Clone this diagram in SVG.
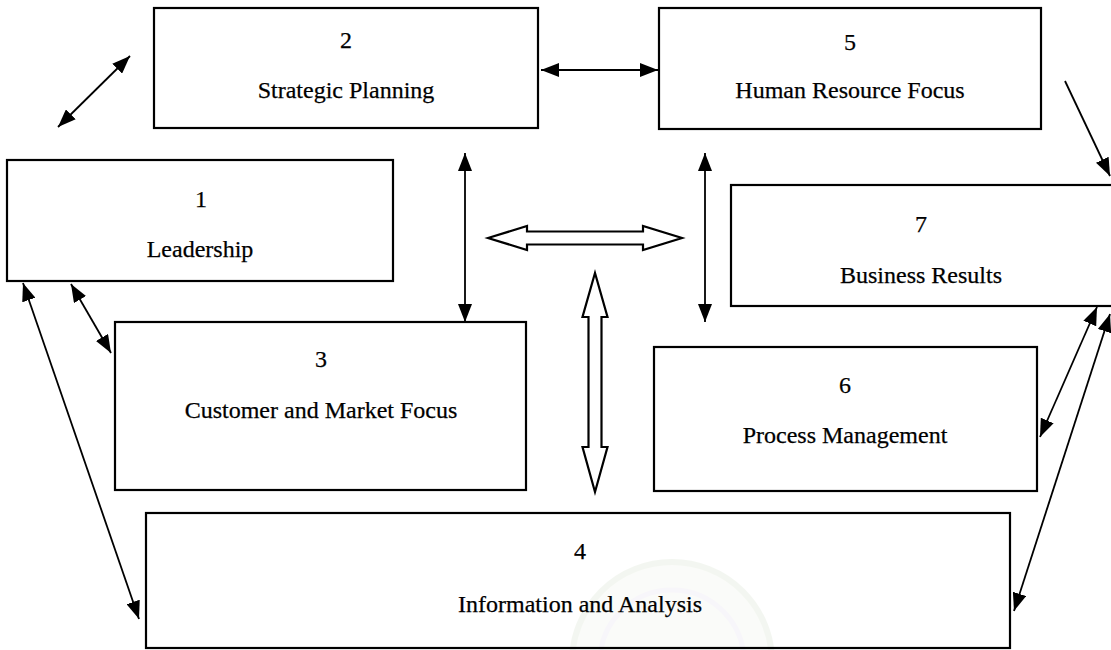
<svg xmlns="http://www.w3.org/2000/svg" width="1111" height="650" viewBox="0 0 1111 650" font-family="'Liberation Serif', 'Times New Roman', Times, serif">
  <defs>
    <marker id="head" viewBox="0 0 18 14" refX="18" refY="7" markerWidth="18" markerHeight="14" markerUnits="userSpaceOnUse" orient="auto-start-reverse">
      <path d="M0,0 L18,7 L0,14 Z" fill="#000"/>
    </marker>
    <style>
      .box { fill: none; stroke: #000; stroke-width: 2.2; }
      .lbl { font-family: 'Liberation Serif', 'Times New Roman', Times, serif; font-size: 24px; fill: #000; stroke: #000; stroke-width: 0.25; text-anchor: middle; }
      .link { fill: none; stroke: #000; stroke-width: 1.8; }
      .dbl { marker-start: url(#head); marker-end: url(#head); }
      .one { marker-end: url(#head); }
      .hollow { fill: #fff; stroke: #000; stroke-width: 2.2; stroke-linejoin: miter; }
    </style>
  </defs>

  <rect width="1111" height="650" fill="#fff"/>

  <!-- faint seal in the background -->
  <g id="seal" opacity="0.35">
    <circle cx="672" cy="662" r="100" fill="#f2f5ee" stroke="#dfe8d8" stroke-width="6"/>
    <circle cx="672" cy="662" r="72" fill="none" stroke="#ebe6f2" stroke-width="5"/>
  </g>

  <!-- criteria boxes -->
  <g id="node-1">
    <rect class="box" x="7" y="160" width="386" height="121"/>
    <text class="lbl" x="201" y="207">1</text>
    <text class="lbl" x="200" y="257">Leadership</text>
  </g>
  <g id="node-2">
    <rect class="box" x="154" y="8" width="384" height="120"/>
    <text class="lbl" x="346" y="48">2</text>
    <text class="lbl" x="346" y="98">Strategic Planning</text>
  </g>
  <g id="node-3">
    <rect class="box" x="115" y="322" width="411" height="168"/>
    <text class="lbl" x="321" y="367">3</text>
    <text class="lbl" x="321" y="418">Customer and Market Focus</text>
  </g>
  <g id="node-4">
    <rect class="box" x="146" y="513" width="864" height="135"/>
    <text class="lbl" x="580" y="559">4</text>
    <text class="lbl" x="580" y="612">Information and Analysis</text>
  </g>
  <g id="node-5">
    <rect class="box" x="659" y="8" width="382" height="121"/>
    <text class="lbl" x="850" y="50">5</text>
    <text class="lbl" x="850" y="98">Human Resource Focus</text>
  </g>
  <g id="node-6">
    <rect class="box" x="654" y="347" width="383" height="144"/>
    <text class="lbl" x="845" y="393">6</text>
    <text class="lbl" x="845" y="443">Process Management</text>
  </g>
  <g id="node-7">
    <rect class="box" x="731" y="185" width="400" height="121"/>
    <text class="lbl" x="921" y="232">7</text>
    <text class="lbl" x="921" y="283">Business Results</text>
  </g>

  <!-- connectors -->
  <g id="connectors">
    <line class="link dbl" x1="58" y1="127" x2="130" y2="56"/>
    <line class="link dbl" x1="541" y1="70" x2="658" y2="70"/>
    <line class="link dbl" x1="465" y1="153" x2="465" y2="322"/>
    <line class="link dbl" x1="705" y1="153" x2="705" y2="322"/>
    <line class="link one" x1="1065" y1="81" x2="1110" y2="176"/>
    <line class="link dbl" x1="71" y1="284" x2="111" y2="353"/>
    <line class="link dbl" x1="23" y1="283" x2="139" y2="619"/>
    <line class="link dbl" x1="1097" y1="307" x2="1040" y2="437"/>
    <line class="link dbl" x1="1110" y1="314" x2="1014" y2="611"/>

    <!-- hollow block arrows -->
    <path class="hollow" d="M488,238 L527,226 L527,231.5 L643,231.5 L643,226 L682,238 L643,250 L643,244.5 L527,244.5 L527,250 Z"/>
    <path class="hollow" d="M595,273 L607.5,317 L601.5,317 L601.5,447 L607.5,447 L595,492 L582.5,447 L588.5,447 L588.5,317 L582.5,317 Z"/>
  </g>
</svg>
